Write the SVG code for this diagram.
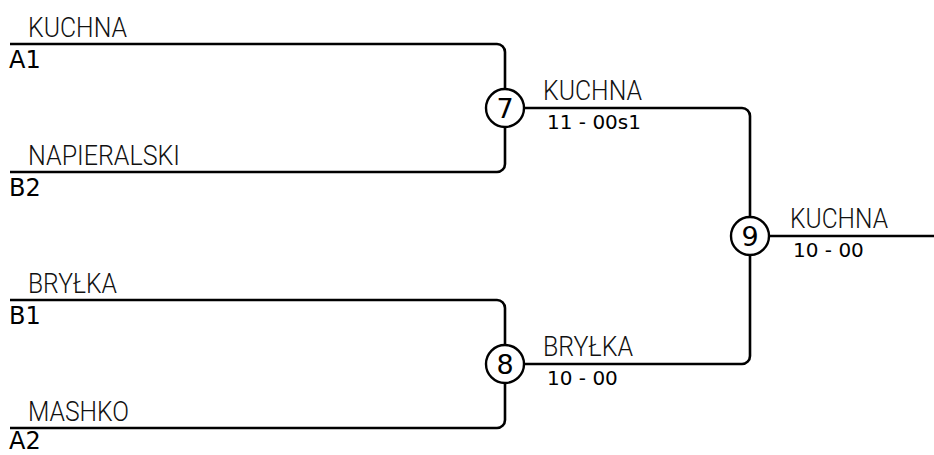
<svg xmlns="http://www.w3.org/2000/svg" width="934" height="455" viewBox="0 0 934 455">
<style>
.ln{fill:none;stroke:#000;stroke-width:2.6;}
.name{font-family:Roboto,"Liberation Sans",sans-serif;font-weight:300;font-size:27px;fill:#111;}
.seed{font-family:"DejaVu Sans",sans-serif;font-size:24px;fill:#000;}
.score{font-family:"DejaVu Sans",sans-serif;font-size:20px;fill:#000;}
.circ{fill:#fff;stroke:#000;stroke-width:2.4;}
.num{font-family:"DejaVu Sans",sans-serif;font-size:27px;fill:#000;text-anchor:middle;}
</style>
<rect width="934" height="455" fill="#fff"/>
<g id="connectors">
<path class="ln" d="M10,44 H497 A8,8 0 0 1 505,52 V164 A8,8 0 0 1 497,172 H10"/>
<path class="ln" d="M10,300 H497 A8,8 0 0 1 505,308 V420 A8,8 0 0 1 497,428 H10"/>
<path class="ln" d="M505,108 H742 A8,8 0 0 1 750,116 V356 A8,8 0 0 1 742,364 H505"/>
<path class="ln" d="M750,236 H934"/>
</g>
<g id="entry-a1">
<text class="name" x="28" y="37" textLength="99" lengthAdjust="spacingAndGlyphs">KUCHNA</text>
<text class="seed" x="9" y="68">A1</text>
</g>
<g id="entry-b2">
<text class="name" x="28" y="165" textLength="152" lengthAdjust="spacingAndGlyphs">NAPIERALSKI</text>
<text class="seed" x="9" y="196">B2</text>
</g>
<g id="entry-b1">
<text class="name" x="28" y="293" textLength="89" lengthAdjust="spacingAndGlyphs">BRYŁKA</text>
<text class="seed" x="9" y="324">B1</text>
</g>
<g id="entry-a2">
<text class="name" x="28" y="421" textLength="101" lengthAdjust="spacingAndGlyphs">MASHKO</text>
<text class="seed" x="9" y="449">A2</text>
</g>
<g id="match-7">
<circle class="circ" cx="505" cy="108" r="19"/>
<text class="num" x="505" y="118">7</text>
<text class="name" x="543" y="100" textLength="99" lengthAdjust="spacingAndGlyphs">KUCHNA</text>
<text class="score" x="547" y="129">11 - 00s1</text>
</g>
<g id="match-8">
<circle class="circ" cx="505" cy="364" r="19"/>
<text class="num" x="505" y="374">8</text>
<text class="name" x="543" y="356" textLength="90" lengthAdjust="spacingAndGlyphs">BRYŁKA</text>
<text class="score" x="547" y="385">10 - 00</text>
</g>
<g id="match-9">
<circle class="circ" cx="750" cy="236" r="19"/>
<text class="num" x="750" y="246">9</text>
<text class="name" x="790" y="228" textLength="98" lengthAdjust="spacingAndGlyphs">KUCHNA</text>
<text class="score" x="793" y="257">10 - 00</text>
</g>
</svg>
